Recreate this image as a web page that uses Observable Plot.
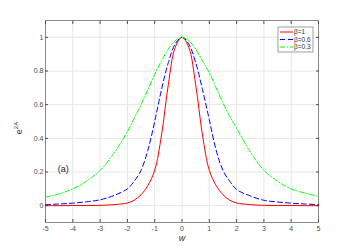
<!DOCTYPE html>
<html><head><meta charset="utf-8">
<script src="https://cdn.jsdelivr.net/npm/d3@7"></script>
<script src="https://cdn.jsdelivr.net/npm/@observablehq/plot@0.6"></script>
<style>body{margin:0;background:#fff;font-family:"Liberation Sans",Arial,sans-serif}</style>
</head><body><div id="chart"></div>
<script>
const w = [-5,-4.5,-4,-3.5,-3,-2.5,-2,-1.75,-1.5,-1.25,-1,-0.75,-0.5,-0.25,0,0.25,0.5,0.75,1,1.25,1.5,1.75,2,2.5,3,3.5,4,4.5,5];
const beta1 = [0,0,0.001,0.001,0.002,0.006,0.016,0.033,0.065,0.12,0.21,0.42,0.72,0.94,1,0.94,0.72,0.42,0.21,0.12,0.065,0.033,0.016,0.006,0.002,0.001,0.001,0,0];
const beta06 = [0.006,0.01,0.015,0.023,0.035,0.06,0.1,0.145,0.21,0.33,0.5,0.69,0.85,0.96,1,0.96,0.85,0.69,0.51,0.33,0.21,0.145,0.096,0.058,0.032,0.022,0.015,0.01,0.006];
const beta03 = [0.05,0.07,0.1,0.145,0.21,0.31,0.44,0.52,0.6,0.69,0.78,0.86,0.93,0.98,1,0.98,0.93,0.86,0.79,0.7,0.61,0.53,0.46,0.32,0.21,0.145,0.1,0.075,0.055];
const seriesNames = ["β=1","β=0.6","β=0.3"];
const seriesColors = ["#ff0000","#0000ff","#00ff00"];
const seriesDash = [null,"5,3","5,2,1,2"];
const xTicks = [-5,-4,-3,-2,-1,0,1,2,3,4,5];
const yTicks = [0,0.2,0.4,0.6,0.8,1];

const all = [beta1,beta06,beta03];
const rows = [];
all.forEach((arr,k)=>arr.forEach((v,i)=>rows.push({w:w[i],v,s:seriesNames[k]})));

const tickStyle = {tickSize:3, tickFormat:()=>"", label:null, stroke:"#4d4d4d"};
const plot = Plot.plot({
  width:351, height:251,
  marginLeft:45, marginRight:33, marginTop:20, marginBottom:29,
  x:{domain:[-5,5]}, y:{domain:[-0.1,1.1]},
  style:{fontFamily:"Liberation Sans, Arial, sans-serif", fontSize:"7px", color:"#4d4d4d", background:"#fff"},
  marks:[
    Plot.gridX(xTicks,{stroke:"#e6e6e6", strokeOpacity:1}),
    Plot.gridY(yTicks,{stroke:"#e6e6e6", strokeOpacity:1}),
    Plot.frame({stroke:"#8a8a8a", strokeWidth:1}),
    // labels
    Plot.axisX(xTicks,{tickSize:0, tickPadding:4, label:null, tickFormat:d=>String(d), fill:"#4d4d4d"}),
    Plot.axisY(yTicks,{tickSize:0, tickPadding:2, label:null, tickFormat:d=>String(d), fill:"#4d4d4d"}),
    // inward ticks
    Plot.axisX(xTicks,{...tickStyle, anchor:"bottom", dy:-3}),
    Plot.axisX(xTicks,{...tickStyle, anchor:"top", dy:3}),
    Plot.axisY(yTicks,{...tickStyle, anchor:"left", dx:3}),
    Plot.axisY(yTicks,{...tickStyle, anchor:"right", dx:-3}),
    ...seriesNames.map((n,k)=>Plot.line(rows.filter(r=>r.s===n),{x:"w",y:"v",stroke:seriesColors[k],strokeWidth:1,strokeDasharray:seriesDash[k],curve:"catmull-rom"})),
    Plot.text(["(a)"],{x:-4.55,y:0.22,text:d=>d,fontSize:9,fill:"#222",textAnchor:"start"})
  ]
});
document.getElementById("chart").appendChild(plot);

const svg = d3.select(plot);
// x label
svg.append("text").attr("x",182).attr("y",241).attr("text-anchor","middle")
  .attr("font-size",9).attr("font-style","italic").attr("fill","#333").text("w");
// y label e^{2A}
const yl = svg.append("text").attr("transform","translate(22,128) rotate(-90)").attr("text-anchor","middle")
  .attr("font-size",9).attr("fill","#333");
yl.append("tspan").text("e");
yl.append("tspan").attr("dy",-4).attr("font-size",6).text("2A");

// legend
const lg = svg.append("g").attr("transform","translate(278,27)");
lg.append("rect").attr("width",35).attr("height",25).attr("fill","#fff").attr("stroke","#888").attr("stroke-width",0.8);
seriesNames.forEach((n,k)=>{
  const y = 5 + k*7.5;
  lg.append("line").attr("x1",2).attr("x2",15).attr("y1",y).attr("y2",y)
    .attr("stroke",seriesColors[k]).attr("stroke-width",1).attr("stroke-dasharray",seriesDash[k]);
  lg.append("text").attr("x",16).attr("y",y+2.3).attr("text-anchor","start").attr("font-size",6.5).attr("fill","#333").text(n);
});
</script></body></html>
